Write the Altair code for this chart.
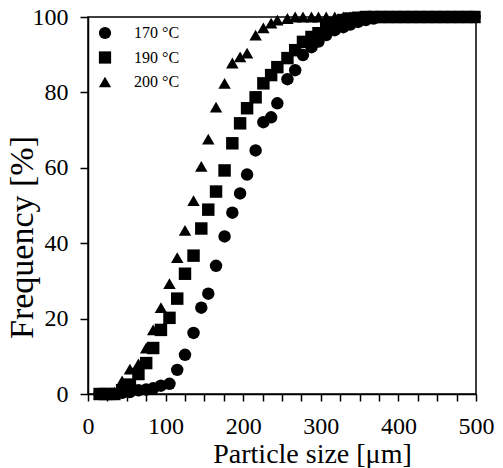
import altair as alt
import pandas as pd

series_names = ["170 °C", "190 °C", "200 °C"]

sizes_um = [15, 24, 34, 44, 54, 65, 75, 84, 94, 105, 115, 125, 136, 146, 155,
            165, 176, 186, 196, 205, 216, 226, 236, 244, 257, 267, 277, 288,
            297, 307, 318, 329, 338, 348, 358, 368, 378, 388, 398, 408, 418,
            428, 438, 448, 458, 468, 478, 488, 498]

freq_170 = [0, 0, 0, 0.3, 0.5, 1.0, 1.2, 1.5, 2.2, 2.7, 6.4, 10.4, 16.2, 22.9,
            26.6, 34.0, 41.8, 48.1, 53.2, 58.2, 64.6, 72.1, 73.4, 77.1, 83.5,
            85.9, 89.9, 92.0, 93.5, 95.2, 96.5, 97.3, 98.0, 98.7, 99.2, 99.6,
            100, 100, 100, 100, 100, 100, 100, 100, 100, 100, 100, 100, 100]

freq_190 = [0, 0, 0, 1.0, 2.5, 5.3, 8.2, 12.2, 17.0, 20.2, 25.3, 31.9, 36.7,
            43.9, 48.9, 53.7, 59.3, 66.5, 71.8, 75.8, 78.7, 82.4, 84.6, 86.7,
            89.1, 91.2, 93.4, 94.7, 95.7, 97.3, 98.4, 99.2, 99.6, 99.8,
            100, 100, 100, 100, 100, 100, 100, 100, 100, 100, 100, 100, 100,
            100, 100]

freq_200 = [0, 0, 0.5, 3.5, 6.6, 8.0, 12.2, 17.0, 22.9, 29.3, 36.2, 43.4, 51.3,
            60.4, 67.6, 76.1, 82.4, 87.8, 89.4, 90.4, 95.2, 97.1, 98.4, 99.2,
            99.6, 100, 100, 100, 100, 100, 100, 100, 100, 100, 100, 100, 100,
            100, 100, 100, 100, 100, 100, 100, 100, 100, 100, 100, 100]

x_tick_values = [0, 25, 50, 75, 100, 125, 150, 175, 200, 225, 250, 275, 300,
                 325, 350, 375, 400, 425, 450, 475, 500]
y_tick_values = [0, 20, 40, 60, 80, 100]

rows = []
for name, vals in zip(series_names, [freq_170, freq_190, freq_200]):
    for x, y in zip(sizes_um, vals):
        rows.append({"size": x, "freq": y, "series": name})
df = pd.DataFrame(rows)

FONT = "Liberation Serif"

chart = alt.Chart(df).mark_point(
    filled=True, opacity=1, color="black", strokeWidth=0, size=155
).encode(
    x=alt.X("size:Q",
            scale=alt.Scale(domain=[0, 500], nice=False, zero=False),
            axis=alt.Axis(values=x_tick_values,
                          labelExpr="datum.value % 100 == 0 ? datum.label : ''",
                          labelFlush=False, labelOverlap=False,
                          title="Particle size [μm]",
                          tickSize=7, labelPadding=13,
                          titleX=224, titleY=46, titleAlign="center",
                          titleBaseline="top", titleFontSize=28)),
    y=alt.Y("freq:Q",
            scale=alt.Scale(domain=[0, 100], nice=False),
            axis=alt.Axis(values=y_tick_values, title="Frequency [%]",
                          tickSize=8, labelPadding=12, labelFlush=False,
                          titleX=-66, titleY=220, titleAlign="center",
                          titleBaseline="middle", titleAngle=270,
                          titleFontSize=34)),
    shape=alt.Shape("series:N",
                    scale=alt.Scale(domain=series_names,
                                    range=["circle", "square", "triangle-up"]),
                    legend=alt.Legend(title=None, orient="none",
                                      legendX=9, legendY=8,
                                      symbolSize=150, symbolFillColor="black",
                                      symbolStrokeColor="black",
                                      symbolStrokeWidth=0,
                                      labelFont=FONT, labelFontSize=16,
                                      labelColor="black",
                                      labelOffset=21, rowPadding=8.5,
                                      padding=0)),
).properties(
    width=388, height=377,
    autosize=alt.AutoSizeParams(type="none"),
    padding={"left": 88, "top": 17, "right": 27, "bottom": 74},
    background="white",
).configure_view(
    stroke="black", strokeWidth=1.5
).configure_axis(
    grid=False, domainColor="black", domainWidth=1.5, tickColor="black",
    tickWidth=1.5, labelColor="black", titleColor="black",
    labelFont=FONT, labelFontSize=24, titleFont=FONT,
    titleFontWeight="normal"
)

chart.save("out.html", embed_options={"renderer": "svg", "actions": False})
